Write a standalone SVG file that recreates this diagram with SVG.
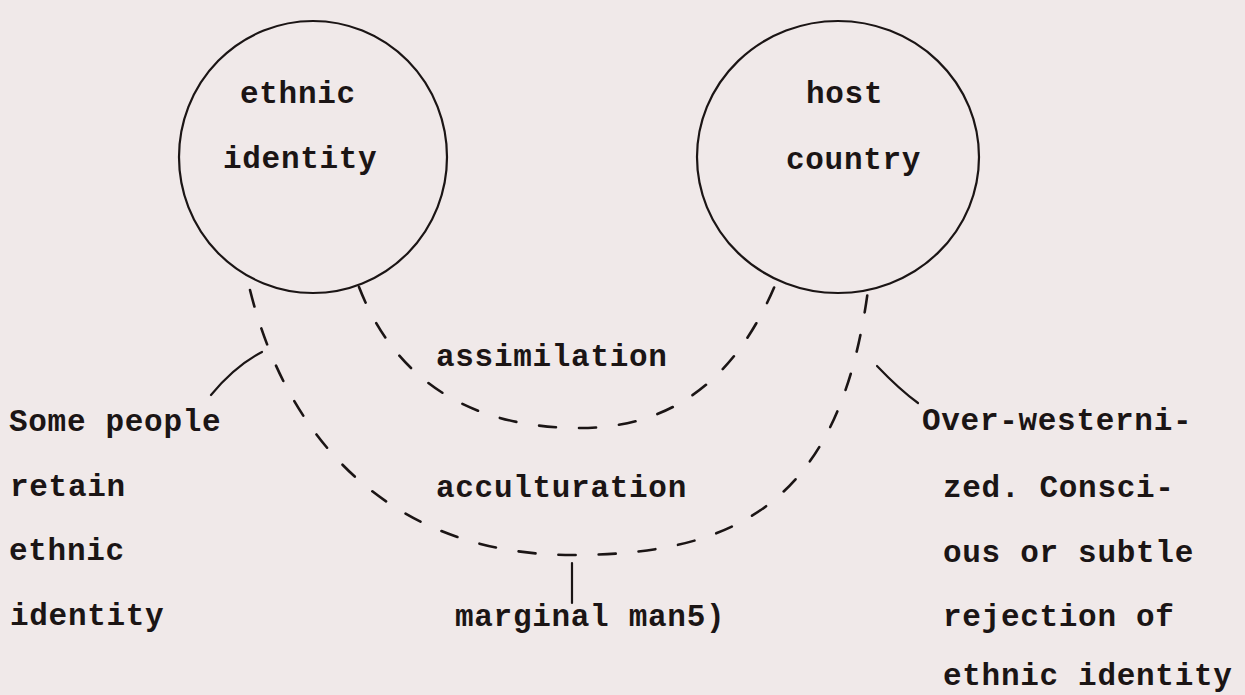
<svg xmlns="http://www.w3.org/2000/svg" width="1245" height="695" viewBox="0 0 1245 695">
<style>
text{font-family:"Liberation Mono","Courier New",monospace;font-size:31px;font-weight:bold;letter-spacing:0.7px;fill:#1b1515}
.ring{fill:none;stroke:#1b1515;stroke-width:2.2}
.dash{fill:none;stroke:#1b1515;stroke-width:2.6;stroke-dasharray:17 23;stroke-linecap:round}
.lead{fill:none;stroke:#1b1515;stroke-width:2.2;stroke-linecap:round}
</style>
<rect width="1245" height="695" fill="#f0e9e9"/>
<g id="ethnic-identity">
<ellipse class="ring" cx="313" cy="157" rx="134" ry="136"/>
<text x="240" y="103">ethnic</text>
<text x="223" y="168">identity</text>
</g>
<g id="host-country">
<ellipse class="ring" cx="838" cy="157" rx="141" ry="136"/>
<text x="806" y="103">host</text>
<text x="786" y="169">country</text>
</g>
<g id="connectors">
<path class="dash" d="M359,287 C395,380 470,428 580,428 C680,428 740,370 776,283"/>
<path class="dash" d="M250,290 C290,450 400,555 572,555 C740,555 840,500 868,290"/>
<path class="lead" d="M211,395 Q235,366 262,352"/>
<path class="lead" d="M877,366 Q900,390 918,403"/>
<path class="lead" d="M572,563 L572,603"/>
</g>
<g id="labels">
<text x="436" y="366">assimilation</text>
<text x="436" y="497">acculturation</text>
<text x="455" y="626">marginal man5)</text>
</g>
<g id="left-note">
<text x="9" y="431">Some people</text>
<text x="10" y="496">retain</text>
<text x="9" y="560">ethnic</text>
<text x="10" y="625">identity</text>
</g>
<g id="right-note">
<text x="922" y="430">Over-westerni-</text>
<text x="943" y="497">zed. Consci-</text>
<text x="943" y="562">ous or subtle</text>
<text x="943" y="626">rejection of</text>
<text x="943" y="685">ethnic identity</text>
</g>
</svg>
